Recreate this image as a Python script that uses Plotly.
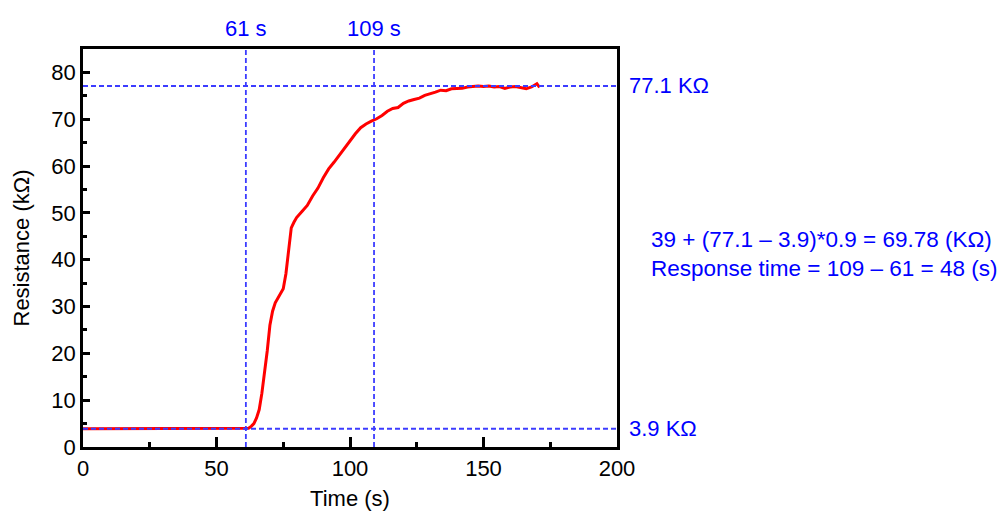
import plotly.graph_objects as go

# ---- data ----
time_s = [0, 61, 62, 63, 64, 65, 66, 67, 68, 69, 70, 71, 72, 73, 74, 75, 76, 77, 78, 79, 80,
          82, 84, 86, 88, 90, 92, 94, 96, 98, 100, 102, 104, 106, 108, 110, 112, 114, 116,
          118, 120, 122, 124, 126, 128, 130, 132, 134, 136, 138, 140, 142, 144, 146, 148,
          150, 152, 154, 156, 158, 160, 162, 164, 166, 168, 170, 171]
resistance_kohm = [3.9, 3.9, 4.0, 4.4, 5.0, 6.2, 8.0, 11.5, 15.5, 20.5, 26.0, 29.0, 30.8, 31.8,
                   32.6, 33.8, 37.0, 42.0, 46.8, 48.0, 49.0, 50.3, 51.6, 53.6, 55.3, 57.5, 59.4,
                   60.8, 62.3, 64.0, 65.5, 66.9, 68.2, 69.0, 69.6, 70.1, 70.8, 71.7, 72.3, 72.5,
                   73.4, 73.9, 74.2, 74.5, 75.1, 75.4, 75.8, 76.2, 76.1, 76.5, 76.6, 76.6, 76.9,
                   77.0, 77.1, 77.0, 77.1, 76.9, 77.0, 76.6, 76.9, 77.0, 76.8, 76.5, 76.9, 77.6,
                   76.8]

marker_times = [61, 109]
marker_time_labels = ["61 s", "109 s"]
level_values = [77.1, 3.9]
level_labels = ["77.1 KΩ", "3.9 KΩ"]
note_lines = ["39 + (77.1 – 3.9)*0.9 = 69.78 (KΩ)", "Response time = 109 – 61 = 48 (s)"]

x_ticks = [0, 50, 100, 150, 200]
y_ticks = [0, 10, 20, 30, 40, 50, 60, 70, 80]

FONT = "Arial, 'Liberation Sans', sans-serif"
BLUE_TEXT = "#0000ff"
BLUE_LINE = "#3c3cff"

fig = go.Figure()
fig.add_trace(go.Scatter(x=time_s, y=resistance_kohm, mode="lines",
                         line=dict(color="#ff0000", width=3), showlegend=False))

for t, lab in zip(marker_times, marker_time_labels):
    fig.add_shape(type="line", xref="x", yref="paper", x0=t, x1=t, y0=0, y1=1,
                  line=dict(color=BLUE_LINE, width=1.8, dash="5px,3px"))
    fig.add_annotation(x=t, xref="x", y=1, yref="paper", yanchor="bottom", yshift=6,
                       text=lab, showarrow=False, font=dict(size=22, color=BLUE_TEXT, family=FONT))

for v, lab in zip(level_values, level_labels):
    fig.add_shape(type="line", xref="paper", yref="y", x0=0, x1=1, y0=v, y1=v,
                  line=dict(color=BLUE_LINE, width=1.8, dash="5px,3px"))
    fig.add_annotation(x=1, xref="paper", y=v, yref="y", xanchor="left", xshift=10,
                       text=lab, showarrow=False, font=dict(size=22, color=BLUE_TEXT, family=FONT))

fig.add_annotation(x=1, xref="paper", y=0.485, yref="paper", xanchor="left", xshift=32,
                   text="<br>".join(note_lines), align="left", showarrow=False,
                   font=dict(size=22.5, color=BLUE_TEXT, family=FONT))

axis_common = dict(showline=True, linecolor="black", linewidth=2.5, mirror=True,
                   ticks="inside", tickcolor="black", tickwidth=2.5,
                   showgrid=False, zeroline=False, automargin=False,
                   tickfont=dict(size=22, color="black", family=FONT))

fig.update_xaxes(range=[0, 200], tickvals=x_ticks, ticklen=10,
                 minor=dict(ticks="inside", dtick=25, ticklen=5, tickwidth=2.5, tickcolor="black"),
                 title=dict(text="Time (s)", font=dict(size=22, color="black", family=FONT), standoff=12),
                 **axis_common)
fig.update_yaxes(range=[0, 85], tickvals=y_ticks, ticklen=7,
                 minor=dict(ticks="inside", dtick=5, ticklen=4, tickwidth=2.5, tickcolor="black"),
                 title=dict(text="Resistance (kΩ)", font=dict(size=22, color="black", family=FONT), standoff=16),
                 **axis_common)

fig.update_layout(width=1003, height=511, margin=dict(l=83, r=386, t=49, b=64),
                  plot_bgcolor="white", paper_bgcolor="white", showlegend=False,
                  font=dict(family=FONT))

fig.write_html("out.html")
